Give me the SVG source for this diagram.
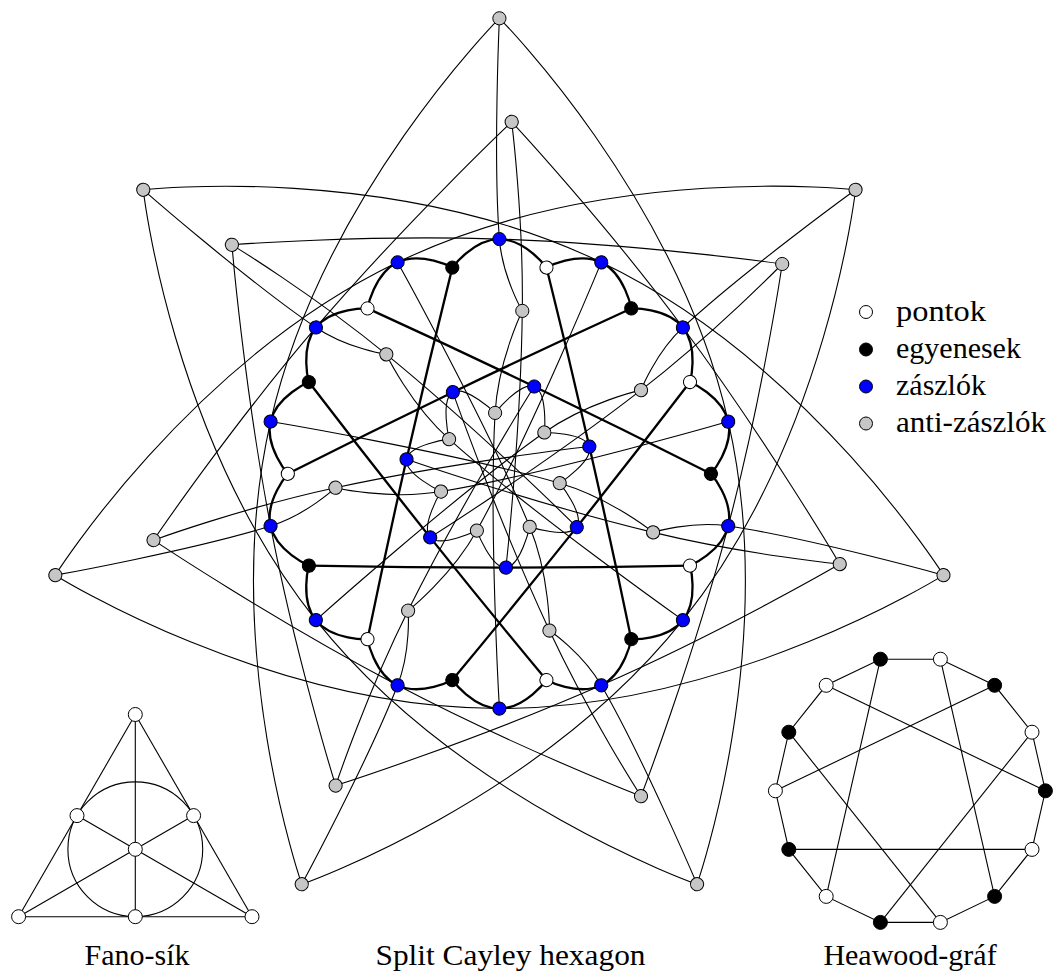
<svg xmlns="http://www.w3.org/2000/svg" width="1053" height="974" viewBox="0 0 1053 974">
<style>
.c path{fill:none;stroke:#000;stroke-width:1.1}
.c path.t{stroke-width:2.3}
.n circle{stroke:#000;stroke-width:1}
.w{fill:#fff}.k{fill:#000}.bl{fill:#0000ff}.g{fill:#c6c6c6}
.e line,.e circle.o,.e path{stroke:#000;stroke-width:1.1;fill:none}
text{font-family:"Liberation Serif","Times New Roman",serif;font-size:30px;fill:#000}
</style>
<rect width="1053" height="974" fill="#fff"/>
<g id="hexagon-connectors" class="c">
<path d="M499.4,18.3C499.4,18.3 493.05,157.9 499.4,239.1C502.34,276.68 522.3,310.9 522.3,310.9"/>
<path transform="rotate(-51.4286 499.4 473.8)" d="M499.4,18.3C499.4,18.3 493.05,157.9 499.4,239.1C502.34,276.68 522.3,310.9 522.3,310.9"/>
<path transform="rotate(-102.8571 499.4 473.8)" d="M499.4,18.3C499.4,18.3 493.05,157.9 499.4,239.1C502.34,276.68 522.3,310.9 522.3,310.9"/>
<path transform="rotate(-154.2857 499.4 473.8)" d="M499.4,18.3C499.4,18.3 493.05,157.9 499.4,239.1C502.34,276.68 522.3,310.9 522.3,310.9"/>
<path transform="rotate(-205.7143 499.4 473.8)" d="M499.4,18.3C499.4,18.3 493.05,157.9 499.4,239.1C502.34,276.68 522.3,310.9 522.3,310.9"/>
<path transform="rotate(-257.1429 499.4 473.8)" d="M499.4,18.3C499.4,18.3 493.05,157.9 499.4,239.1C502.34,276.68 522.3,310.9 522.3,310.9"/>
<path transform="rotate(-308.5714 499.4 473.8)" d="M499.4,18.3C499.4,18.3 493.05,157.9 499.4,239.1C502.34,276.68 522.3,310.9 522.3,310.9"/>
<path d="M231.9,244.8C231.9,244.8 365.7,234.43 499.4,239.1C641.26,244.05 782.2,264 782.2,264"/>
<path transform="rotate(-51.4286 499.4 473.8)" d="M231.9,244.8C231.9,244.8 365.7,234.43 499.4,239.1C641.26,244.05 782.2,264 782.2,264"/>
<path transform="rotate(-102.8571 499.4 473.8)" d="M231.9,244.8C231.9,244.8 365.7,234.43 499.4,239.1C641.26,244.05 782.2,264 782.2,264"/>
<path transform="rotate(-154.2857 499.4 473.8)" d="M231.9,244.8C231.9,244.8 365.7,234.43 499.4,239.1C641.26,244.05 782.2,264 782.2,264"/>
<path transform="rotate(-205.7143 499.4 473.8)" d="M231.9,244.8C231.9,244.8 365.7,234.43 499.4,239.1C641.26,244.05 782.2,264 782.2,264"/>
<path transform="rotate(-257.1429 499.4 473.8)" d="M231.9,244.8C231.9,244.8 365.7,234.43 499.4,239.1C641.26,244.05 782.2,264 782.2,264"/>
<path transform="rotate(-308.5714 499.4 473.8)" d="M231.9,244.8C231.9,244.8 365.7,234.43 499.4,239.1C641.26,244.05 782.2,264 782.2,264"/>
<path d="M499.4,708.5C499.4,708.5 488.75,523.2 495.1,412.9C498.14,360.19 522.3,310.9 522.3,310.9"/>
<path transform="rotate(-51.4286 499.4 473.8)" d="M499.4,708.5C499.4,708.5 488.75,523.2 495.1,412.9C498.14,360.19 522.3,310.9 522.3,310.9"/>
<path transform="rotate(-102.8571 499.4 473.8)" d="M499.4,708.5C499.4,708.5 488.75,523.2 495.1,412.9C498.14,360.19 522.3,310.9 522.3,310.9"/>
<path transform="rotate(-154.2857 499.4 473.8)" d="M499.4,708.5C499.4,708.5 488.75,523.2 495.1,412.9C498.14,360.19 522.3,310.9 522.3,310.9"/>
<path transform="rotate(-205.7143 499.4 473.8)" d="M499.4,708.5C499.4,708.5 488.75,523.2 495.1,412.9C498.14,360.19 522.3,310.9 522.3,310.9"/>
<path transform="rotate(-257.1429 499.4 473.8)" d="M499.4,708.5C499.4,708.5 488.75,523.2 495.1,412.9C498.14,360.19 522.3,310.9 522.3,310.9"/>
<path transform="rotate(-308.5714 499.4 473.8)" d="M499.4,708.5C499.4,708.5 488.75,523.2 495.1,412.9C498.14,360.19 522.3,310.9 522.3,310.9"/>
<path d="M855.5,189.8C855.5,189.8 606.4,161.7 397.6,262.3C188.7,362.9 55.3,575.2 55.3,575.2"/>
<path transform="rotate(-51.4286 499.4 473.8)" d="M855.5,189.8C855.5,189.8 606.4,161.7 397.6,262.3C188.7,362.9 55.3,575.2 55.3,575.2"/>
<path transform="rotate(-102.8571 499.4 473.8)" d="M855.5,189.8C855.5,189.8 606.4,161.7 397.6,262.3C188.7,362.9 55.3,575.2 55.3,575.2"/>
<path transform="rotate(-154.2857 499.4 473.8)" d="M855.5,189.8C855.5,189.8 606.4,161.7 397.6,262.3C188.7,362.9 55.3,575.2 55.3,575.2"/>
<path transform="rotate(-205.7143 499.4 473.8)" d="M855.5,189.8C855.5,189.8 606.4,161.7 397.6,262.3C188.7,362.9 55.3,575.2 55.3,575.2"/>
<path transform="rotate(-257.1429 499.4 473.8)" d="M855.5,189.8C855.5,189.8 606.4,161.7 397.6,262.3C188.7,362.9 55.3,575.2 55.3,575.2"/>
<path transform="rotate(-308.5714 499.4 473.8)" d="M855.5,189.8C855.5,189.8 606.4,161.7 397.6,262.3C188.7,362.9 55.3,575.2 55.3,575.2"/>
<path d="M495.1,412.9C495.1,412.9 520.52,381.09 534.2,386.5C547.88,391.91 544.4,432.4 544.4,432.4"/>
<path transform="rotate(-51.4286 499.4 473.8)" d="M495.1,412.9C495.1,412.9 520.52,381.09 534.2,386.5C547.88,391.91 544.4,432.4 544.4,432.4"/>
<path transform="rotate(-102.8571 499.4 473.8)" d="M495.1,412.9C495.1,412.9 520.52,381.09 534.2,386.5C547.88,391.91 544.4,432.4 544.4,432.4"/>
<path transform="rotate(-154.2857 499.4 473.8)" d="M495.1,412.9C495.1,412.9 520.52,381.09 534.2,386.5C547.88,391.91 544.4,432.4 544.4,432.4"/>
<path transform="rotate(-205.7143 499.4 473.8)" d="M495.1,412.9C495.1,412.9 520.52,381.09 534.2,386.5C547.88,391.91 544.4,432.4 544.4,432.4"/>
<path transform="rotate(-257.1429 499.4 473.8)" d="M495.1,412.9C495.1,412.9 520.52,381.09 534.2,386.5C547.88,391.91 544.4,432.4 544.4,432.4"/>
<path transform="rotate(-308.5714 499.4 473.8)" d="M495.1,412.9C495.1,412.9 520.52,381.09 534.2,386.5C547.88,391.91 544.4,432.4 544.4,432.4"/>
<path d="M534.2,386.5C534.2,386.5 463.2,499.84 408.1,610.6C365.93,695.35 335.7,785.5 335.7,785.5"/>
<path transform="rotate(-51.4286 499.4 473.8)" d="M534.2,386.5C534.2,386.5 463.2,499.84 408.1,610.6C365.93,695.35 335.7,785.5 335.7,785.5"/>
<path transform="rotate(-102.8571 499.4 473.8)" d="M534.2,386.5C534.2,386.5 463.2,499.84 408.1,610.6C365.93,695.35 335.7,785.5 335.7,785.5"/>
<path transform="rotate(-154.2857 499.4 473.8)" d="M534.2,386.5C534.2,386.5 463.2,499.84 408.1,610.6C365.93,695.35 335.7,785.5 335.7,785.5"/>
<path transform="rotate(-205.7143 499.4 473.8)" d="M534.2,386.5C534.2,386.5 463.2,499.84 408.1,610.6C365.93,695.35 335.7,785.5 335.7,785.5"/>
<path transform="rotate(-257.1429 499.4 473.8)" d="M534.2,386.5C534.2,386.5 463.2,499.84 408.1,610.6C365.93,695.35 335.7,785.5 335.7,785.5"/>
<path transform="rotate(-308.5714 499.4 473.8)" d="M534.2,386.5C534.2,386.5 463.2,499.84 408.1,610.6C365.93,695.35 335.7,785.5 335.7,785.5"/>
<path class="t" d="M452.3,267.6C452.3,267.6 421.12,250.98 397.6,262.3C374.08,273.62 367.5,308.4 367.5,308.4"/>
<path class="t" transform="rotate(-51.4286 499.4 473.8)" d="M452.3,267.6C452.3,267.6 421.12,250.98 397.6,262.3C374.08,273.62 367.5,308.4 367.5,308.4"/>
<path class="t" transform="rotate(-102.8571 499.4 473.8)" d="M452.3,267.6C452.3,267.6 421.12,250.98 397.6,262.3C374.08,273.62 367.5,308.4 367.5,308.4"/>
<path class="t" transform="rotate(-154.2857 499.4 473.8)" d="M452.3,267.6C452.3,267.6 421.12,250.98 397.6,262.3C374.08,273.62 367.5,308.4 367.5,308.4"/>
<path class="t" transform="rotate(-205.7143 499.4 473.8)" d="M452.3,267.6C452.3,267.6 421.12,250.98 397.6,262.3C374.08,273.62 367.5,308.4 367.5,308.4"/>
<path class="t" transform="rotate(-257.1429 499.4 473.8)" d="M452.3,267.6C452.3,267.6 421.12,250.98 397.6,262.3C374.08,273.62 367.5,308.4 367.5,308.4"/>
<path class="t" transform="rotate(-308.5714 499.4 473.8)" d="M452.3,267.6C452.3,267.6 421.12,250.98 397.6,262.3C374.08,273.62 367.5,308.4 367.5,308.4"/>
<path class="t" d="M546.5,267.6C546.5,267.6 525.54,239.1 499.4,239.1C473.26,239.1 452.3,267.6 452.3,267.6"/>
<path class="t" transform="rotate(-51.4286 499.4 473.8)" d="M546.5,267.6C546.5,267.6 525.54,239.1 499.4,239.1C473.26,239.1 452.3,267.6 452.3,267.6"/>
<path class="t" transform="rotate(-102.8571 499.4 473.8)" d="M546.5,267.6C546.5,267.6 525.54,239.1 499.4,239.1C473.26,239.1 452.3,267.6 452.3,267.6"/>
<path class="t" transform="rotate(-154.2857 499.4 473.8)" d="M546.5,267.6C546.5,267.6 525.54,239.1 499.4,239.1C473.26,239.1 452.3,267.6 452.3,267.6"/>
<path class="t" transform="rotate(-205.7143 499.4 473.8)" d="M546.5,267.6C546.5,267.6 525.54,239.1 499.4,239.1C473.26,239.1 452.3,267.6 452.3,267.6"/>
<path class="t" transform="rotate(-257.1429 499.4 473.8)" d="M546.5,267.6C546.5,267.6 525.54,239.1 499.4,239.1C473.26,239.1 452.3,267.6 452.3,267.6"/>
<path class="t" transform="rotate(-308.5714 499.4 473.8)" d="M546.5,267.6C546.5,267.6 525.54,239.1 499.4,239.1C473.26,239.1 452.3,267.6 452.3,267.6"/>
<path class="t" d="M367.5,308.4C367.5,308.4 451.27,346.56 534.2,386.5C622.98,429.26 710.9,473.8 710.9,473.8"/>
<path class="t" transform="rotate(-51.4286 499.4 473.8)" d="M367.5,308.4C367.5,308.4 451.27,346.56 534.2,386.5C622.98,429.26 710.9,473.8 710.9,473.8"/>
<path class="t" transform="rotate(-102.8571 499.4 473.8)" d="M367.5,308.4C367.5,308.4 451.27,346.56 534.2,386.5C622.98,429.26 710.9,473.8 710.9,473.8"/>
<path class="t" transform="rotate(-154.2857 499.4 473.8)" d="M367.5,308.4C367.5,308.4 451.27,346.56 534.2,386.5C622.98,429.26 710.9,473.8 710.9,473.8"/>
<path class="t" transform="rotate(-205.7143 499.4 473.8)" d="M367.5,308.4C367.5,308.4 451.27,346.56 534.2,386.5C622.98,429.26 710.9,473.8 710.9,473.8"/>
<path class="t" transform="rotate(-257.1429 499.4 473.8)" d="M367.5,308.4C367.5,308.4 451.27,346.56 534.2,386.5C622.98,429.26 710.9,473.8 710.9,473.8"/>
<path class="t" transform="rotate(-308.5714 499.4 473.8)" d="M367.5,308.4C367.5,308.4 451.27,346.56 534.2,386.5C622.98,429.26 710.9,473.8 710.9,473.8"/>
</g>
<g id="hexagon-nodes" class="n">
<g id="point-0"><circle class="w" cx="367.5" cy="308.4" r="6.6"/></g>
<g id="point-1" transform="rotate(-51.4286 499.4 473.8)"><circle class="w" cx="367.5" cy="308.4" r="6.6"/></g>
<g id="point-2" transform="rotate(-102.8571 499.4 473.8)"><circle class="w" cx="367.5" cy="308.4" r="6.6"/></g>
<g id="point-3" transform="rotate(-154.2857 499.4 473.8)"><circle class="w" cx="367.5" cy="308.4" r="6.6"/></g>
<g id="point-4" transform="rotate(-205.7143 499.4 473.8)"><circle class="w" cx="367.5" cy="308.4" r="6.6"/></g>
<g id="point-5" transform="rotate(-257.1429 499.4 473.8)"><circle class="w" cx="367.5" cy="308.4" r="6.6"/></g>
<g id="point-6" transform="rotate(-308.5714 499.4 473.8)"><circle class="w" cx="367.5" cy="308.4" r="6.6"/></g>
<g id="line-0"><circle class="k" cx="452.3" cy="267.6" r="6.6"/></g>
<g id="line-1" transform="rotate(-51.4286 499.4 473.8)"><circle class="k" cx="452.3" cy="267.6" r="6.6"/></g>
<g id="line-2" transform="rotate(-102.8571 499.4 473.8)"><circle class="k" cx="452.3" cy="267.6" r="6.6"/></g>
<g id="line-3" transform="rotate(-154.2857 499.4 473.8)"><circle class="k" cx="452.3" cy="267.6" r="6.6"/></g>
<g id="line-4" transform="rotate(-205.7143 499.4 473.8)"><circle class="k" cx="452.3" cy="267.6" r="6.6"/></g>
<g id="line-5" transform="rotate(-257.1429 499.4 473.8)"><circle class="k" cx="452.3" cy="267.6" r="6.6"/></g>
<g id="line-6" transform="rotate(-308.5714 499.4 473.8)"><circle class="k" cx="452.3" cy="267.6" r="6.6"/></g>
<g id="flag-a0"><circle class="bl" cx="397.6" cy="262.3" r="6.6"/></g>
<g id="flag-a1" transform="rotate(-51.4286 499.4 473.8)"><circle class="bl" cx="397.6" cy="262.3" r="6.6"/></g>
<g id="flag-a2" transform="rotate(-102.8571 499.4 473.8)"><circle class="bl" cx="397.6" cy="262.3" r="6.6"/></g>
<g id="flag-a3" transform="rotate(-154.2857 499.4 473.8)"><circle class="bl" cx="397.6" cy="262.3" r="6.6"/></g>
<g id="flag-a4" transform="rotate(-205.7143 499.4 473.8)"><circle class="bl" cx="397.6" cy="262.3" r="6.6"/></g>
<g id="flag-a5" transform="rotate(-257.1429 499.4 473.8)"><circle class="bl" cx="397.6" cy="262.3" r="6.6"/></g>
<g id="flag-a6" transform="rotate(-308.5714 499.4 473.8)"><circle class="bl" cx="397.6" cy="262.3" r="6.6"/></g>
<g id="flag-b6"><circle class="bl" cx="499.4" cy="239.1" r="6.6"/></g>
<g id="flag-b0" transform="rotate(-51.4286 499.4 473.8)"><circle class="bl" cx="499.4" cy="239.1" r="6.6"/></g>
<g id="flag-b1" transform="rotate(-102.8571 499.4 473.8)"><circle class="bl" cx="499.4" cy="239.1" r="6.6"/></g>
<g id="flag-b2" transform="rotate(-154.2857 499.4 473.8)"><circle class="bl" cx="499.4" cy="239.1" r="6.6"/></g>
<g id="flag-b3" transform="rotate(-205.7143 499.4 473.8)"><circle class="bl" cx="499.4" cy="239.1" r="6.6"/></g>
<g id="flag-b4" transform="rotate(-257.1429 499.4 473.8)"><circle class="bl" cx="499.4" cy="239.1" r="6.6"/></g>
<g id="flag-b5" transform="rotate(-308.5714 499.4 473.8)"><circle class="bl" cx="499.4" cy="239.1" r="6.6"/></g>
<g id="flag-c0"><circle class="bl" cx="534.2" cy="386.5" r="6.6"/></g>
<g id="flag-c1" transform="rotate(-51.4286 499.4 473.8)"><circle class="bl" cx="534.2" cy="386.5" r="6.6"/></g>
<g id="flag-c2" transform="rotate(-102.8571 499.4 473.8)"><circle class="bl" cx="534.2" cy="386.5" r="6.6"/></g>
<g id="flag-c3" transform="rotate(-154.2857 499.4 473.8)"><circle class="bl" cx="534.2" cy="386.5" r="6.6"/></g>
<g id="flag-c4" transform="rotate(-205.7143 499.4 473.8)"><circle class="bl" cx="534.2" cy="386.5" r="6.6"/></g>
<g id="flag-c5" transform="rotate(-257.1429 499.4 473.8)"><circle class="bl" cx="534.2" cy="386.5" r="6.6"/></g>
<g id="flag-c6" transform="rotate(-308.5714 499.4 473.8)"><circle class="bl" cx="534.2" cy="386.5" r="6.6"/></g>
<g id="anti-1-0"><circle class="g" cx="499.4" cy="18.3" r="6.6"/></g>
<g id="anti-1-1" transform="rotate(-51.4286 499.4 473.8)"><circle class="g" cx="499.4" cy="18.3" r="6.6"/></g>
<g id="anti-1-2" transform="rotate(-102.8571 499.4 473.8)"><circle class="g" cx="499.4" cy="18.3" r="6.6"/></g>
<g id="anti-1-3" transform="rotate(-154.2857 499.4 473.8)"><circle class="g" cx="499.4" cy="18.3" r="6.6"/></g>
<g id="anti-1-4" transform="rotate(-205.7143 499.4 473.8)"><circle class="g" cx="499.4" cy="18.3" r="6.6"/></g>
<g id="anti-1-5" transform="rotate(-257.1429 499.4 473.8)"><circle class="g" cx="499.4" cy="18.3" r="6.6"/></g>
<g id="anti-1-6" transform="rotate(-308.5714 499.4 473.8)"><circle class="g" cx="499.4" cy="18.3" r="6.6"/></g>
<g id="anti-3-0"><circle class="g" cx="782.2" cy="264" r="6.6"/></g>
<g id="anti-3-1" transform="rotate(-51.4286 499.4 473.8)"><circle class="g" cx="782.2" cy="264" r="6.6"/></g>
<g id="anti-3-2" transform="rotate(-102.8571 499.4 473.8)"><circle class="g" cx="782.2" cy="264" r="6.6"/></g>
<g id="anti-3-3" transform="rotate(-154.2857 499.4 473.8)"><circle class="g" cx="782.2" cy="264" r="6.6"/></g>
<g id="anti-3-4" transform="rotate(-205.7143 499.4 473.8)"><circle class="g" cx="782.2" cy="264" r="6.6"/></g>
<g id="anti-3-5" transform="rotate(-257.1429 499.4 473.8)"><circle class="g" cx="782.2" cy="264" r="6.6"/></g>
<g id="anti-3-6" transform="rotate(-308.5714 499.4 473.8)"><circle class="g" cx="782.2" cy="264" r="6.6"/></g>
<g id="anti-5-2"><circle class="g" cx="522.3" cy="310.9" r="6.6"/></g>
<g id="anti-5-3" transform="rotate(-51.4286 499.4 473.8)"><circle class="g" cx="522.3" cy="310.9" r="6.6"/></g>
<g id="anti-5-4" transform="rotate(-102.8571 499.4 473.8)"><circle class="g" cx="522.3" cy="310.9" r="6.6"/></g>
<g id="anti-5-5" transform="rotate(-154.2857 499.4 473.8)"><circle class="g" cx="522.3" cy="310.9" r="6.6"/></g>
<g id="anti-5-6" transform="rotate(-205.7143 499.4 473.8)"><circle class="g" cx="522.3" cy="310.9" r="6.6"/></g>
<g id="anti-5-0" transform="rotate(-257.1429 499.4 473.8)"><circle class="g" cx="522.3" cy="310.9" r="6.6"/></g>
<g id="anti-5-1" transform="rotate(-308.5714 499.4 473.8)"><circle class="g" cx="522.3" cy="310.9" r="6.6"/></g>
<g id="anti-4-5"><circle class="g" cx="495.1" cy="412.9" r="6.6"/></g>
<g id="anti-4-6" transform="rotate(-51.4286 499.4 473.8)"><circle class="g" cx="495.1" cy="412.9" r="6.6"/></g>
<g id="anti-4-0" transform="rotate(-102.8571 499.4 473.8)"><circle class="g" cx="495.1" cy="412.9" r="6.6"/></g>
<g id="anti-4-1" transform="rotate(-154.2857 499.4 473.8)"><circle class="g" cx="495.1" cy="412.9" r="6.6"/></g>
<g id="anti-4-2" transform="rotate(-205.7143 499.4 473.8)"><circle class="g" cx="495.1" cy="412.9" r="6.6"/></g>
<g id="anti-4-3" transform="rotate(-257.1429 499.4 473.8)"><circle class="g" cx="495.1" cy="412.9" r="6.6"/></g>
<g id="anti-4-4" transform="rotate(-308.5714 499.4 473.8)"><circle class="g" cx="495.1" cy="412.9" r="6.6"/></g>
</g>
<g id="legend" class="n">
<g id="legend-pontok"><circle class="w" cx="866" cy="312" r="6.5"/><text x="896" y="320.5" textLength="90" lengthAdjust="spacingAndGlyphs">pontok</text></g>
<g id="legend-egyenesek"><circle class="k" cx="866" cy="349.5" r="6.5"/><text x="896" y="358">egyenesek</text></g>
<g id="legend-zaszlok"><circle class="bl" cx="866" cy="386.5" r="6.5"/><text x="896" y="395">zászlók</text></g>
<g id="legend-antizaszlok"><circle class="g" cx="866" cy="423.5" r="6.5"/><text x="896" y="432" textLength="150" lengthAdjust="spacingAndGlyphs">anti-zászlók</text></g>
</g>
<g id="fano-connectors" class="e">
<line x1="135.3" y1="714.5" x2="18.6" y2="916.7"/>
<line x1="135.3" y1="714.5" x2="252" y2="916.7"/>
<line x1="18.6" y1="916.7" x2="252" y2="916.7"/>
<line x1="135.3" y1="714.5" x2="135.3" y2="916.7"/>
<line x1="18.6" y1="916.7" x2="193.6" y2="815.6"/>
<line x1="252" y1="916.7" x2="77" y2="815.6"/>
<circle class="o" cx="135.3" cy="849.3" r="67.4"/>
</g>
<g id="fano-nodes" class="n">
<g id="fano-1"><circle class="w" cx="135.3" cy="714.5" r="7"/></g>
<g id="fano-2"><circle class="w" cx="77" cy="815.6" r="7"/></g>
<g id="fano-3"><circle class="w" cx="193.6" cy="815.6" r="7"/></g>
<g id="fano-4"><circle class="w" cx="135.3" cy="849.3" r="7"/></g>
<g id="fano-5"><circle class="w" cx="18.6" cy="916.7" r="7"/></g>
<g id="fano-6"><circle class="w" cx="135.3" cy="916.7" r="7"/></g>
<g id="fano-7"><circle class="w" cx="252" cy="916.7" r="7"/></g>
</g>
<g id="heawood-connectors" class="e">
<path d="M940.4,659.2L880.4,659.2L826.2,685.3L788.8,732.2L775.4,790.8L788.8,849.4L826.2,896.4L880.4,922.4L940.4,922.4L994.6,896.4L1032,849.4L1045.4,790.8L1032,732.2L994.6,685.3Z"/>
<line x1="826.2" y1="685.3" x2="1045.4" y2="790.8"/>
<line x1="775.4" y1="790.8" x2="994.6" y2="685.3"/>
<line x1="826.2" y1="896.4" x2="880.4" y2="659.2"/>
<line x1="940.4" y1="922.4" x2="788.8" y2="732.2"/>
<line x1="1032" y1="849.4" x2="788.8" y2="849.4"/>
<line x1="1032" y1="732.2" x2="880.4" y2="922.4"/>
<line x1="940.4" y1="659.2" x2="994.6" y2="896.4"/>
</g>
<g id="heawood-nodes" class="n">
<g id="hw-1"><circle class="w" cx="940.4" cy="659.2" r="7"/></g>
<g id="hw-2"><circle class="k" cx="880.4" cy="659.2" r="7"/></g>
<g id="hw-3"><circle class="w" cx="826.2" cy="685.3" r="7"/></g>
<g id="hw-4"><circle class="k" cx="788.8" cy="732.2" r="7"/></g>
<g id="hw-5"><circle class="w" cx="775.4" cy="790.8" r="7"/></g>
<g id="hw-6"><circle class="k" cx="788.8" cy="849.4" r="7"/></g>
<g id="hw-7"><circle class="w" cx="826.2" cy="896.4" r="7"/></g>
<g id="hw-8"><circle class="k" cx="880.4" cy="922.4" r="7"/></g>
<g id="hw-9"><circle class="w" cx="940.4" cy="922.4" r="7"/></g>
<g id="hw-10"><circle class="k" cx="994.6" cy="896.4" r="7"/></g>
<g id="hw-11"><circle class="w" cx="1032" cy="849.4" r="7"/></g>
<g id="hw-12"><circle class="k" cx="1045.4" cy="790.8" r="7"/></g>
<g id="hw-13"><circle class="w" cx="1032" cy="732.2" r="7"/></g>
<g id="hw-14"><circle class="k" cx="994.6" cy="685.3" r="7"/></g>
</g>
<g id="captions">
<text x="137" y="965" text-anchor="middle">Fano-sík</text>
<text x="510.5" y="965" text-anchor="middle" textLength="270" lengthAdjust="spacingAndGlyphs">Split Cayley hexagon</text>
<text x="910" y="965" text-anchor="middle">Heawood-gráf</text>
</g>
</svg>
